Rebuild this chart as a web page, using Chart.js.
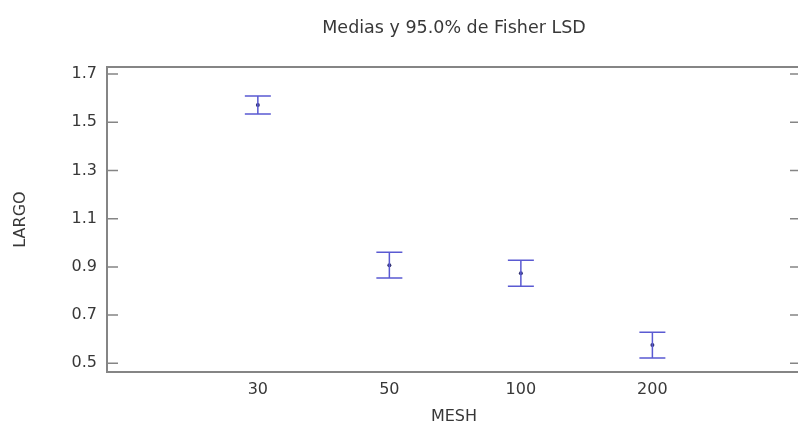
<!DOCTYPE html>
<html>
<head>
<meta charset="utf-8">
<title>Medias y 95.0% de Fisher LSD</title>
<script src="https://cdn.jsdelivr.net/npm/chart.js@4.4.1/dist/chart.umd.min.js"></script>
<style>
  html, body { margin: 0; padding: 0; background: #fff; overflow: hidden; }
  canvas { display: block; }
</style>
</head>
<body>
<canvas id="chart" width="900" height="425"></canvas>
<script>
// MESH groups and LARGO means with the 95% Fisher LSD limits
const meshLabels = ['30', '50', '100', '200'];
const means = [1.571, 0.907, 0.874, 0.576];
const lower = [1.534, 0.854, 0.820, 0.522];
const upper = [1.609, 0.961, 0.928, 0.629];
const yTicks = [0.5, 0.7, 0.9, 1.1, 1.3, 1.5, 1.7];

const textColor = '#383838';
const axisColor = '#858585';
const barColor = '#5a5ad2';

Chart.defaults.font.family = "'DejaVu Sans', sans-serif";
Chart.defaults.color = textColor;

// interval bars drawn through the chart scales
const errorBars = {
    id: 'errorBars',
    afterDatasetsDraw(chart) {
        const { ctx, scales: { x, y } } = chart;
        const cap = 13;
        ctx.save();
        ctx.strokeStyle = barColor;
        ctx.lineWidth = 1.5;
        means.forEach((m, i) => {
            const px = x.getPixelForValue(i);
            const yLo = y.getPixelForValue(lower[i]);
            const yHi = y.getPixelForValue(upper[i]);
            ctx.beginPath();
            ctx.moveTo(px, yLo); ctx.lineTo(px, yHi);
            ctx.moveTo(px - cap, yLo); ctx.lineTo(px + cap, yLo);
            ctx.moveTo(px - cap, yHi); ctx.lineTo(px + cap, yHi);
            ctx.stroke();
        });
        ctx.restore();
    }
};

// small tick marks pointing into the plot, left and right
const innerTicks = {
    id: 'innerTicks',
    afterDraw(chart) {
        const { ctx, chartArea: area, scales: { y } } = chart;
        const len = 11;
        ctx.save();
        ctx.strokeStyle = axisColor;
        ctx.lineWidth = 1.5;
        yTicks.forEach(v => {
            const py = y.getPixelForValue(v);
            ctx.beginPath();
            ctx.moveTo(area.left, py); ctx.lineTo(area.left + len, py);
            ctx.moveTo(area.right - len, py); ctx.lineTo(area.right, py);
            ctx.stroke();
        });
        ctx.restore();
    }
};

const ctx = document.getElementById('chart').getContext('2d');

new Chart(ctx, {
    type: 'scatter',
    data: {
        datasets: [{
            label: 'LARGO',
            data: means.map((m, i) => ({ x: i, y: m })),
            pointRadius: 2,
            pointBackgroundColor: '#303070',
            pointBorderWidth: 0
        }]
    },
    options: {
        responsive: false,
        animation: false,
        layout: { padding: { left: 0, right: 99, top: 0, bottom: 0 } },
        plugins: {
            legend: { display: false },
            tooltip: { enabled: false },
            title: {
                display: true,
                text: 'Medias y 95.0% de Fisher LSD',
                fullSize: false,
                color: textColor,
                font: { size: 17.5, weight: 'normal' },
                padding: { top: 17.5, bottom: 28.5 }
            }
        },
        scales: {
            x: {
                type: 'linear',
                position: 'bottom',
                min: -1.147,
                max: 4.13,
                afterBuildTicks: s => { s.ticks = meshLabels.map((l, i) => ({ value: i })); },
                afterFit: s => { s.height = 53; },
                ticks: {
                    callback: v => meshLabels[v],
                    padding: 8,
                    font: { size: 16 },
                    maxRotation: 0
                },
                grid: { display: true, drawOnChartArea: false, drawTicks: false },
                border: { display: true, color: axisColor, width: 2 },
                title: {
                    display: true,
                    text: 'MESH',
                    font: { size: 16, lineHeight: 1 },
                    padding: { top: 0, bottom: 0 }
                }
            },
            x2: {
                type: 'linear',
                position: 'top',
                min: -1.147,
                max: 4.13,
                afterFit: s => { s.height = 0; },
                ticks: { display: false },
                grid: { display: true, drawOnChartArea: false, drawTicks: false },
                border: { display: true, color: axisColor, width: 2 }
            },
            y: {
                min: 0.464,
                max: 1.729,
                afterBuildTicks: s => { s.ticks = yTicks.map(v => ({ value: v })); },
                afterFit: s => { s.width = 107; },
                ticks: {
                    callback: v => v.toFixed(1),
                    padding: 10,
                    font: { size: 16 }
                },
                grid: { display: true, drawOnChartArea: false, drawTicks: false },
                border: { display: true, color: axisColor, width: 2 },
                title: {
                    display: true,
                    text: 'LARGO',
                    font: { size: 16 },
                    padding: { top: 11.4, bottom: 0 }
                }
            }
        }
    },
    plugins: [errorBars, innerTicks]
});
</script>
</body>
</html>
